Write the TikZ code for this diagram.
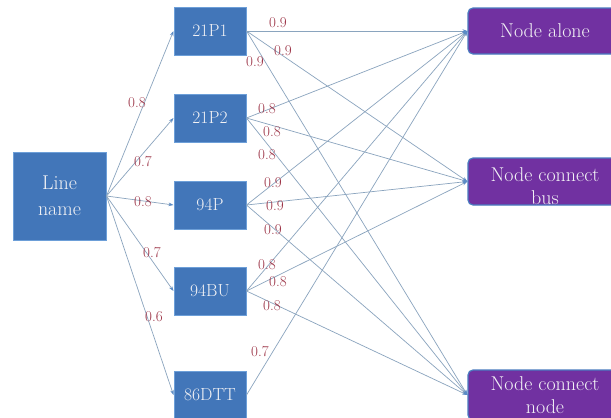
\documentclass[tikz,border=0pt]{standalone}
\usetikzlibrary{arrows.meta}
\definecolor{boxblue}{HTML}{4276B9}
\definecolor{boxedge}{HTML}{6D9FD8}
\definecolor{purp}{HTML}{7131A1}
\definecolor{purpedge}{HTML}{4A7CC0}
\definecolor{wirec}{HTML}{8AA4BE}
\definecolor{tipc}{HTML}{5B8BC5}
\definecolor{lab}{HTML}{9C3346}
\definecolor{txt}{HTML}{F2F2F5}
\begin{document}
\begin{tikzpicture}[x=1pt,y=-1pt,
  mbox/.style={draw=boxedge, line width=1pt, fill=boxblue, minimum width=72pt, minimum height=48pt, inner sep=0pt, text=txt, font=\fontsize{17.5}{20}\selectfont},
  lbox/.style={draw=boxedge, line width=1pt, fill=boxblue, minimum width=93pt, minimum height=88pt, inner sep=0pt, text=txt, align=center, font=\fontsize{20}{26}\selectfont},
  rbox/.style={draw=purpedge, line width=1.2pt, fill=purp, rounded corners=5pt, minimum width=154pt, inner sep=0pt},
  rtext/.style={text=txt, align=center, font=\fontsize{20}{23}\selectfont, inner sep=0pt},
  wire/.style={draw=wirec, line width=0.7pt},
  arr/.style={wire, -{Stealth[length=5pt,width=3.5pt,color=tipc]}},
  wlab/.style={text=lab, font=\fontsize{15}{15}\selectfont, inner sep=0pt}
]
\clip (0,0) rectangle (611,418);
\fill[white] (0,0) rectangle (611,418);

% nodes
\node[lbox] (ln) at (59.5,196) {Line\\name};
\node[mbox] (p1) at (210,31) {21P1};
\node[mbox] (p2) at (210,118) {21P2};
\node[mbox] (p94) at (210,205) {94P};
\node[mbox] (bu) at (210,291) {94BU};
\node[mbox] (dtt) at (210,395) {86DTT};

\node[rbox, minimum height=46pt] (na) at (545,31) {};
\node[rtext] (nat) at (545,31) {Node alone};
\node[rbox, minimum height=47pt] (nb) at (545,181.5) {};
\node[rtext] (nbt) at (545,186.5) {Node connect\\bus};
\node[rbox, minimum height=50pt] (nn) at (545,395) {};
\node[rtext] (nnt) at (545,395) {Node connect\\node};

% line name to middle
\draw[arr] (ln.east) -- (p1.west);
\draw[arr] (ln.east) -- (p2.west);
\draw[arr] (ln.east) -- (p94.west);
\draw[arr] (ln.east) -- (bu.west);
\draw[arr] (ln.east) -- (dtt.west);

% middle to right
\foreach \m in {p1,p2,p94,bu}{
  \draw[arr] (\m.east) -- (na.west);
  \draw[arr] (\m.east) -- (nb.west);
  \draw[arr] (\m.east) -- (nn.west);
}
\draw[arr] (dtt.east) -- (na.west);

% labels
\node[wlab] at (137,103) {0.8};
\node[wlab] at (143,162) {0.7};
\node[wlab] at (143,202) {0.8};
\node[wlab] at (152,253) {0.7};
\node[wlab] at (154,317) {0.6};

\node[wlab] at (278,23) {0.9};
\node[wlab] at (283,51) {0.9};
\node[wlab] at (255,62) {0.9};

\node[wlab] at (267,109) {0.8};
\node[wlab] at (272,132) {0.8};
\node[wlab] at (267,155) {0.8};

\node[wlab] at (273,183) {0.9};
\node[wlab] at (275,206) {0.9};
\node[wlab] at (273,230) {0.9};

\node[wlab] at (267,265) {0.8};
\node[wlab] at (278,282) {0.8};
\node[wlab] at (272,306) {0.8};

\node[wlab] at (260,352) {0.7};
\end{tikzpicture}
\end{document}
